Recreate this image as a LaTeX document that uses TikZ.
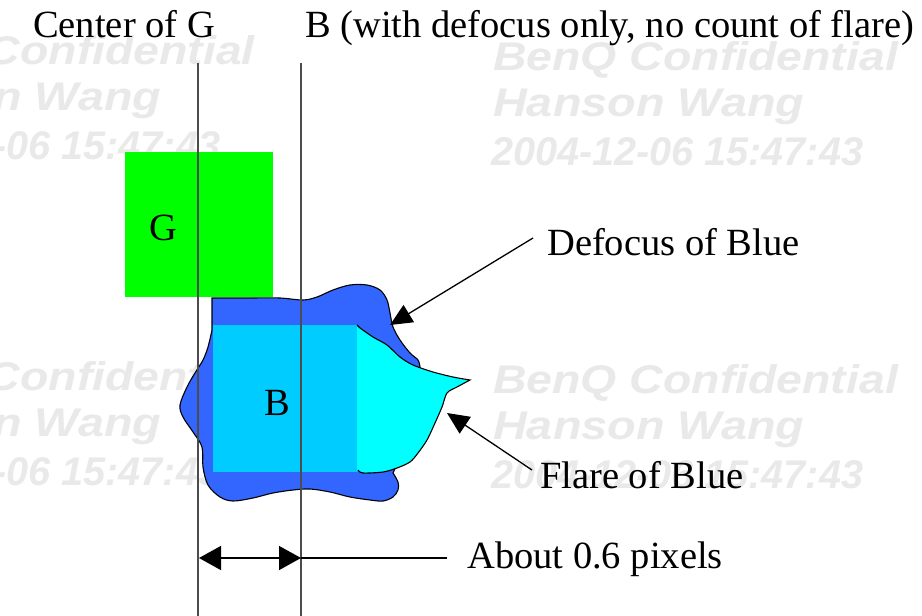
\documentclass[tikz,border=0pt]{standalone}
\usepackage{fontspec}
\setmainfont{Liberation Serif}
\newfontfamily\wmfont{Liberation Sans}
\usetikzlibrary{arrows.meta}
\definecolor{gfill}{RGB}{0,255,0}
\definecolor{blobblue}{RGB}{51,102,255}
\definecolor{innerblue}{RGB}{0,204,255}
\definecolor{flarecyan}{RGB}{0,255,255}
\definecolor{wmgray}{RGB}{233,233,233}
\begin{document}
\begin{tikzpicture}[x=1pt,y=-1pt,
  lbl/.style={inner sep=0pt, anchor=base west, font=\fontsize{38.5}{46}\selectfont},
  wm/.style={inner sep=0pt, anchor=base west, text=wmgray, font=\wmfont\bfseries\itshape\fontsize{40}{48}\selectfont},
  guide/.style={draw=black!70, line width=1.6pt},
  callout/.style={line width=1.3pt, -{Triangle[length=22pt,width=20pt]}},
  dim/.style={line width=1.5pt, {Triangle[length=22pt,width=24pt]}-{Triangle[length=22pt,width=24pt]}},
  outline/.style={draw=black, line width=1.1pt}]
\useasboundingbox (0,0) rectangle (922,616);
\fill[white] (0,0) rectangle (922,616);
\clip (0,0) rectangle (922,616);
% watermark
\foreach \i/\x/\y in {1/493/70, 2/-150/64, 3/493/393, 4/-150/390} {
  \node[wm] (wm\i a) at (\x,\y) {\scalebox{1.16}[1]{BenQ Confidential}};
  \node[wm] (wm\i b) at (\x,\y+46) {\scalebox{1.17}[1]{Hanson Wang}};
  \node[wm] (wm\i c) at (\x-2,\y+95) {\scalebox{0.99}[1]{2004-12-06 15:47:43}};
}
% green square
\node[fill=gfill, minimum width=148pt, minimum height=145pt, inner sep=0pt, anchor=north west] (gsq) at (125,152) {};
% blob (defocus of blue)
\filldraw[outline, fill=blobblue] (212,330) -- (212,298) -- plot[smooth, tension=0.55] coordinates {(253,298) (280,298) (303,300) (317,297) (333,290) (350,285) (367,285) (380,290) (387,300) (390,313) (393,327) (400,340) (410,353) (418,360) (420,367)} -- (425,420) -- (398,462) -- plot[smooth, tension=0.55] coordinates {(393,473) (398,482) (398,490) (393,497) (383,501) (370,500) (350,497) (330,492) (310,489) (293,490) (273,493) (253,498) (233,501) (220,497) (208,485) (203,467) (202,447) (193,432) (183,417) (180,405) (187,387) (195,373) (203,360) (208,347) (212,330)} -- cycle;
% inner B square
\fill[innerblue] (213,325) rectangle (357,472);
% flare
\fill[flarecyan] (357,325) -- plot[smooth, tension=0.5] coordinates {(360,328) (373,337) (387,345) (400,357) (413,365) (433,372) (453,377) (470,380)} -- plot[smooth, tension=0.5] coordinates {(470,380) (457,387) (447,393) (442,407) (435,423) (427,440) (418,453) (410,462) (397,468) (383,472) (363,473) (358,470)} -- (357,472) -- cycle;
\draw[outline] (357,325) -- plot[smooth, tension=0.5] coordinates {(360,328) (373,337) (387,345) (400,357) (413,365) (433,372) (453,377) (470,380)} -- plot[smooth, tension=0.5] coordinates {(470,380) (457,387) (447,393) (442,407) (435,423) (427,440) (418,453) (410,462) (397,468) (383,472) (363,473) (358,470)};
% guide lines
\coordinate (gtop) at (198,63);
\coordinate (gbot) at (198,616);
\coordinate (btop) at (301,63);
\coordinate (bbot) at (301,616);
\draw[guide] (gtop) -- (gbot);
\draw[guide] (btop) -- (bbot);
% labels
\node[lbl] (cg) at (33,37) {Center of G};
\node[lbl] (bdef) at (305,37) {B (with defocus only, no count of flare)};
\node[lbl, anchor=base] (glbl) at (163,240) {G};
\node[lbl, anchor=base] (blbl) at (277,415) {B};
\node[lbl] (defocus) at (547,255) {Defocus of Blue};
\node[lbl] (flare) at (540,488) {Flare of Blue};
\node[lbl] (about) at (467,568) {About 0.6 pixels};
% callouts
\coordinate (dstart) at (533,238);
\coordinate (dtip) at (390,325);
\coordinate (fstart) at (532,470);
\coordinate (ftip) at (447,413);
\draw[callout] (dstart) -- (dtip);
\draw[callout] (fstart) -- (ftip);
% dimension
\coordinate (dl) at (199,558);
\coordinate (dr) at (301,558);
\coordinate (dend) at (447,558);
\draw[dim] (dl) -- (dr);
\draw[line width=1.5pt] (dr) -- (dend);
\end{tikzpicture}
\end{document}
